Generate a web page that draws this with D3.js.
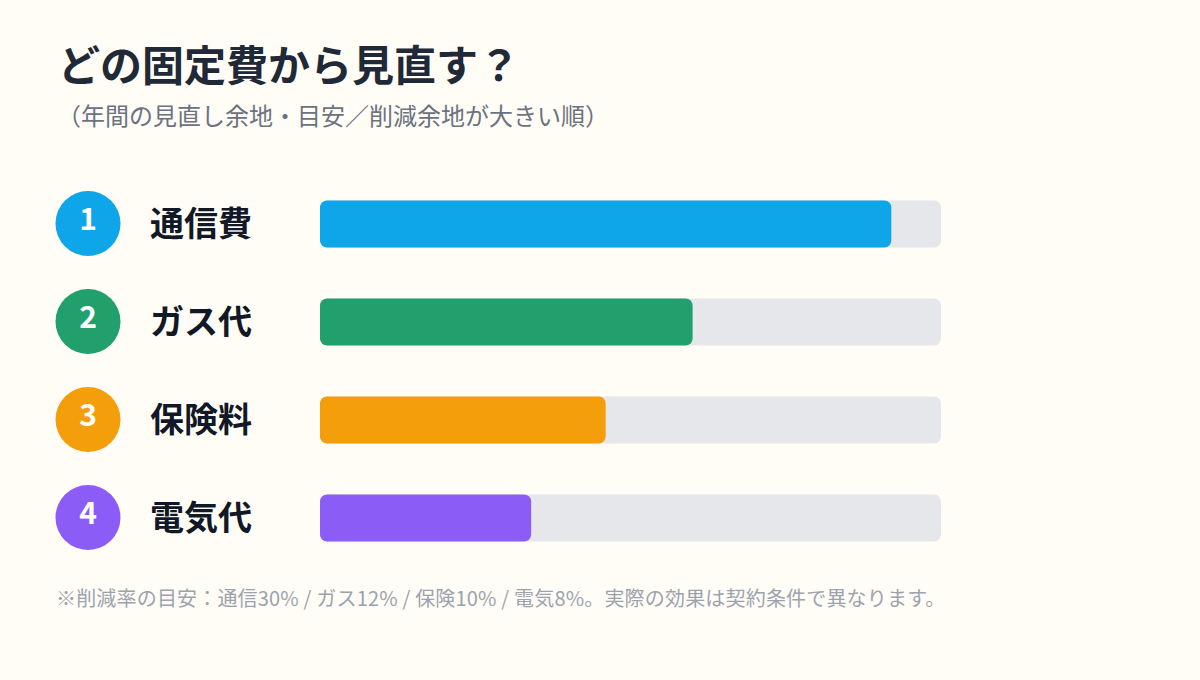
<!DOCTYPE html>
<html><head><meta charset="utf-8">
<script src="https://cdn.jsdelivr.net/npm/d3@7"></script>
<style>
html,body{margin:0;padding:0;background:#fffdf5;}
svg{display:block;font-family:"Noto Sans CJK JP","Noto Sans",sans-serif;}
</style></head>
<body><svg id="chart" width="1200" height="680"></svg>
<script>
const categories = ["通信費", "ガス代", "保険料", "電気代"];
const ranks = ["1", "2", "3", "4"];
const values = [92, 60, 46, 34]; // relative annual saving potential (index, max 100)
const colors = ["#0ea5e9", "#22a06b", "#f59e0b", "#8b5cf6"];
const domainMax = 100;

const svg = d3.select("#chart");
svg.append("rect").attr("width",1200).attr("height",680).attr("fill","#fffdf5");

svg.append("text").attr("x",58).attr("y",81)
  .attr("font-size",42).attr("font-weight",700).attr("fill","#1f2937")
  .text("どの固定費から見直す？");
svg.append("text").attr("x",57).attr("y",125)
  .attr("font-size",24).attr("font-weight",400).attr("fill","#6b7280")
  .text("（年間の見直し余地・目安／削減余地が大きい順）");

const y = d3.scaleBand().domain(categories).range([175, 567]).paddingInner(0.52).paddingOuter(0.26);
const x = d3.scaleLinear().domain([0, domainMax]).range([320, 941]);

const rows = svg.selectAll("g.row").data(categories).join("g").attr("class","row");

rows.append("rect")
  .attr("x", x(0)).attr("y", d => y(d))
  .attr("width", x(domainMax) - x(0)).attr("height", y.bandwidth())
  .attr("rx", 7).attr("fill", "#e5e7eb");

rows.append("rect")
  .attr("x", x(0)).attr("y", d => y(d))
  .attr("width", (d,i) => x(values[i]) - x(0)).attr("height", y.bandwidth())
  .attr("rx", 7).attr("fill", (d,i) => colors[i]);

const cy = d => y(d) + y.bandwidth()/2;
rows.append("circle").attr("cx", 88).attr("cy", d => cy(d) - 0.5).attr("r", 32.5)
  .attr("fill", (d,i) => colors[i]);
rows.append("text").attr("x", 88).attr("y", d => cy(d) + 6)
  .attr("text-anchor","middle").attr("font-size",30).attr("font-weight",700)
  .attr("fill","#ffffff")
  .text((d,i) => ranks[i]);
rows.append("text").attr("x", 150).attr("y", d => cy(d)).attr("dy", "0.36em")
  .attr("font-size",34).attr("font-weight",700).attr("fill","#111827")
  .text(d => d);

svg.append("text").attr("x",56).attr("y",606)
  .attr("font-size",20).attr("font-weight",400).attr("fill","#9ca3af")
  .attr("letter-spacing",0.18)
  .text("※削減率の目安：通信30% / ガス12% / 保険10% / 電気8%。実際の効果は契約条件で異なります。");
</script></body></html>
